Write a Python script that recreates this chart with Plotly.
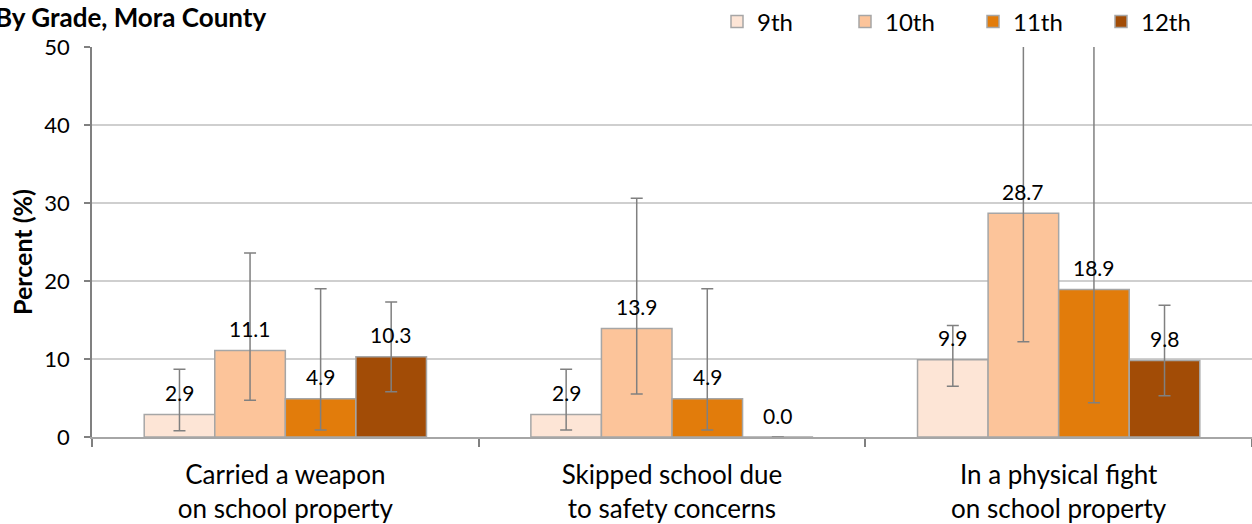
import plotly.graph_objects as go

categories = ["Carried a weapon<br>on school property",
              "Skipped school due<br>to safety concerns",
              "In a physical fight<br>on school property"]
grades = ["9th", "10th", "11th", "12th"]

g9_values = [2.9, 2.9, 9.9]
g9_lower = [0.8, 0.9, 6.5]
g9_upper = [8.7, 8.7, 14.3]

g10_values = [11.1, 13.9, 28.7]
g10_lower = [4.7, 5.5, 12.2]
g10_upper = [23.6, 30.6, 55.0]

g11_values = [4.9, 4.9, 18.9]
g11_lower = [0.9, 0.9, 4.4]
g11_upper = [19.0, 19.0, 57.0]

g12_values = [10.3, 0.0, 9.8]
g12_lower = [5.8, 0.0, 5.3]
g12_upper = [17.3, 0.0, 16.9]

colors = ["#fde5d6", "#fcc49a", "#e27c0b", "#a24c06"]

series = [
    (g9_values, g9_lower, g9_upper),
    (g10_values, g10_lower, g10_upper),
    (g11_values, g11_lower, g11_upper),
    (g12_values, g12_lower, g12_upper),
]

W, H = 1252, 524
ML, MR, MT, MB = 92, 0, 47, 87
BARGAP = 0.27
FONT = "Lato, 'Open Sans', sans-serif"

fig = go.Figure()
for name, color, (vals, lo, hi) in zip(grades, colors, series):
    fig.add_trace(go.Bar(
        name=name, x=categories, y=vals,
        marker=dict(color=color, line=dict(color="#a6a6a6", width=1.5)),
        error_y=dict(type="data", symmetric=False,
                     array=[h - v for v, h in zip(vals, hi)],
                     arrayminus=[v - l for v, l in zip(vals, lo)],
                     color="#808080", thickness=1.5, width=6),
    ))

plot_w = W - ML - MR
plot_h = H - MT - MB
bar_px = plot_w / len(categories) * (1 - BARGAP) / len(grades)
annotations = []
for j, (vals, lo, hi) in enumerate(series):
    for cat, v in zip(categories, vals):
        annotations.append(dict(
            x=cat, y=v, xref="x", yref="y", text=f"{v:.1f}",
            showarrow=False, yanchor="middle", yshift=22,
            xshift=(j - (len(grades) - 1) / 2) * bar_px,
            font=dict(family=FONT, size=21, color="#000000")))

annotations.append(dict(
    text="<b>By Grade, Mora County</b>", xref="paper", yref="paper",
    x=-(ML + 7) / plot_w, y=1 + (MT - 17) / plot_h,
    xanchor="left", yanchor="middle", showarrow=False,
    font=dict(family=FONT, size=26, color="#000000")))
annotations.append(dict(
    text="<b>Percent (%)</b>", xref="paper", yref="paper",
    x=-(ML - 22) / plot_w, y=(H - MB - 252) / plot_h,
    xanchor="center", yanchor="middle", textangle=-90, showarrow=False,
    font=dict(family=FONT, size=25, color="#000000")))

fig.update_layout(
    width=W, height=H,
    margin=dict(l=ML, r=MR, t=MT, b=MB, pad=0, autoexpand=False),
    barmode="group", bargap=BARGAP, bargroupgap=0,
    plot_bgcolor="white", paper_bgcolor="white",
    font=dict(family=FONT, color="#000000"),
    showlegend=True,
    legend=dict(orientation="h", xref="container", yref="container",
                x=717 / W, xanchor="left",
                y=1 - 22 / H, yanchor="middle",
                font=dict(family=FONT, size=24, color="#000000"),
                entrywidth=83, entrywidthmode="pixels",
                bgcolor="rgba(0,0,0,0)"),
    annotations=annotations,
    xaxis=dict(type="category", tickson="boundaries", ticks="outside",
               ticklen=8, tickcolor="#808080", tickwidth=1.5,
               showline=True, linecolor="#a6a6a6", linewidth=1.5,
               showgrid=False, automargin=False, ticklabelstandoff=14,
               tickfont=dict(family=FONT, size=26, color="#000000")),
    yaxis=dict(range=[0, 50], tickvals=[0, 10, 20, 30, 40, 50],
               ticks="outside", ticklen=6, tickcolor="#808080", tickwidth=1.5,
               showline=True, linecolor="#808080", linewidth=1.5,
               showgrid=True, gridcolor="#cfcfcf", gridwidth=1.5,
               zeroline=False, automargin=False, ticklabelstandoff=10,
               tickfont=dict(family=FONT, size=22, color="#000000")),
)

fig.write_html("out.html", config={"displayModeBar": False},
               post_script="document.body.style.margin='0';document.body.style.overflow='hidden';")
